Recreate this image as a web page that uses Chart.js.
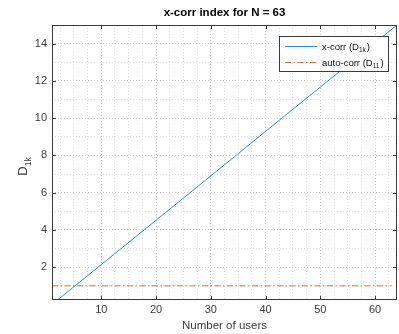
<!DOCTYPE html>
<html>
<head>
<meta charset="utf-8">
<script src="https://cdn.jsdelivr.net/npm/chart.js@4"></script>
<style>
  html, body { margin: 0; padding: 0; background: #fff; }
  #wrap { width: 399px; height: 334px; position: relative; }
</style>
</head>
<body>
<div id="wrap"><canvas id="corrChart"></canvas></div>
<script>
// ===== data =====
const users = [2, 10, 20, 30, 40, 50, 64];
const xcorr = [0.24, 2.14, 4.52, 6.90, 9.29, 11.67, 15.0];
const autoUsers = [1, 63];
const autoCorr = [1, 1];

const xTickLabels = [10, 20, 30, 40, 50, 60];
const yTickLabels = [2, 4, 6, 8, 10, 12, 14];
const xMinorStep = 2.5;
const yMinorStep = 1;

const axisColor = '#3a3a3a';
const font = '"Liberation Sans", Arial, sans-serif';

// minor + major grid positions
function gridValues(min, max, step) {
  const vals = [];
  for (let v = Math.ceil(min / step) * step; v < max; v += step) {
    if (v > min) vals.push(+v.toFixed(3));
  }
  return vals;
}

// box, inner ticks, title, y label with subscript, legend
const matlabLook = {
  id: 'matlabLook',
  afterDraw(chart) {
    const { ctx, chartArea: a, scales } = chart;
    ctx.save();

    // axes box
    ctx.strokeStyle = axisColor;
    ctx.lineWidth = 1;
    ctx.strokeRect(a.left + 0.5, a.top + 0.5, a.right - a.left - 1, a.bottom - a.top - 1);

    // inward tick marks
    const tl = 4;
    ctx.beginPath();
    xTickLabels.forEach(v => {
      const px = Math.round(scales.x.getPixelForValue(v)) + 0.5;
      ctx.moveTo(px, a.bottom); ctx.lineTo(px, a.bottom - tl);
      ctx.moveTo(px, a.top); ctx.lineTo(px, a.top + tl);
    });
    yTickLabels.forEach(v => {
      const py = Math.round(scales.y.getPixelForValue(v)) + 0.5;
      ctx.moveTo(a.left, py); ctx.lineTo(a.left + tl, py);
      ctx.moveTo(a.right, py); ctx.lineTo(a.right - tl, py);
    });
    ctx.stroke();

    // title
    ctx.fillStyle = '#000';
    ctx.font = 'bold 11.5px ' + font;
    ctx.textAlign = 'center';
    ctx.textBaseline = 'middle';
    ctx.fillText('x-corr index for N = 63', (a.left + a.right) / 2, 13);

    // y axis title D_1k
    ctx.save();
    ctx.translate(23, (a.top + a.bottom) / 2 + 4);
    ctx.rotate(-Math.PI / 2);
    ctx.fillStyle = axisColor;
    ctx.textAlign = 'left';
    ctx.textBaseline = 'alphabetic';
    ctx.font = '13px ' + font;
    const dW = ctx.measureText('D').width;
    ctx.font = '8.5px ' + font;
    const sW = ctx.measureText('1k').width;
    const x0 = -(dW + sW) / 2;
    ctx.font = '13px ' + font;
    ctx.fillText('D', x0, 4);
    ctx.font = '8.5px ' + font;
    ctx.fillText('1k', x0 + dW, 7.5);
    ctx.restore();

    // legend
    const lx = 279, ly = 36, lw = 109, lh = 35;
    ctx.fillStyle = '#fff';
    ctx.fillRect(lx, ly, lw, lh);
    ctx.strokeStyle = axisColor;
    ctx.strokeRect(lx + 0.5, ly + 0.5, lw, lh);

    const rows = [
      { ds: chart.data.datasets[0], main: 'x-corr (D', sub: '1k', y: ly + 10 },
      { ds: chart.data.datasets[1], main: 'auto-corr (D', sub: '11', y: ly + 26 }
    ];
    rows.forEach(r => {
      ctx.strokeStyle = r.ds.borderColor;
      ctx.lineWidth = 1;
      ctx.setLineDash(r.ds.borderDash || []);
      ctx.beginPath();
      ctx.moveTo(lx + 6, r.y + 0.5);
      ctx.lineTo(lx + 38, r.y + 0.5);
      ctx.stroke();
      ctx.setLineDash([]);

      ctx.fillStyle = '#111';
      ctx.textAlign = 'left';
      ctx.textBaseline = 'alphabetic';
      let tx = lx + 43;
      ctx.font = '9.5px ' + font;
      ctx.fillText(r.main, tx, r.y + 3.5);
      tx += ctx.measureText(r.main).width;
      ctx.font = '6.5px ' + font;
      ctx.fillText(r.sub, tx, r.y + 6);
      tx += ctx.measureText(r.sub).width + 1;
      ctx.font = '9.5px ' + font;
      ctx.fillText(')', tx, r.y + 3.5);
    });

    ctx.restore();
  }
};

const ctx = document.getElementById('corrChart').getContext('2d');

new Chart(ctx, {
  type: 'line',
  data: {
    datasets: [{
      label: 'x-corr (D1k)',
      data: users.map((u, i) => ({ x: u, y: xcorr[i] })),
      borderColor: '#2b8fd6',
      borderWidth: 1,
      pointRadius: 0,
      tension: 0
    }, {
      label: 'auto-corr (D11)',
      data: autoUsers.map((u, i) => ({ x: u, y: autoCorr[i] })),
      borderColor: '#e06a3a',
      borderWidth: 1,
      borderDash: [6, 2.5, 1.5, 2.5],
      pointRadius: 0,
      tension: 0
    }]
  },
  options: {
    responsive: true,
    maintainAspectRatio: false,
    animation: false,
    layout: { padding: { left: 0, right: 2, top: 25, bottom: 0 } },
    plugins: {
      legend: { display: false },
      title: { display: false },
      tooltip: { enabled: false }
    },
    scales: {
      x: {
        type: 'linear',
        min: 1,
        max: 64,
        afterBuildTicks: axis => {
          axis.ticks = gridValues(1, 64, xMinorStep).map(v => ({ value: v }));
        },
        afterFit: axis => { axis.height = 34; },
        ticks: {
          autoSkip: false,
          maxRotation: 0,
          padding: 3,
          color: axisColor,
          font: { family: font, size: 11 },
          callback: v => xTickLabels.includes(v) ? String(v) : ''
        },
        grid: {
          drawTicks: false,
          color: c => xTickLabels.includes(c.tick && c.tick.value) ? '#cfcfcf' : '#e2e2e2'
        },
        border: { display: false, dash: [1, 2] },
        title: {
          display: true,
          text: 'Number of users',
          color: axisColor,
          font: { family: font, size: 11.5 },
          padding: { top: 0, bottom: 1 }
        }
      },
      y: {
        type: 'linear',
        min: 0.24,
        max: 15,
        afterBuildTicks: axis => {
          axis.ticks = gridValues(0.24, 15, yMinorStep).map(v => ({ value: v }));
        },
        afterFit: axis => { axis.width = 52; },
        ticks: {
          autoSkip: false,
          padding: 5,
          color: axisColor,
          font: { family: font, size: 11 },
          callback: v => yTickLabels.includes(v) ? String(v) : ''
        },
        grid: {
          drawTicks: false,
          color: c => yTickLabels.includes(c.tick && c.tick.value) ? '#cfcfcf' : '#e2e2e2'
        },
        border: { display: false, dash: [1, 2] }
      }
    }
  },
  plugins: [matlabLook]
});
</script>
</body>
</html>
